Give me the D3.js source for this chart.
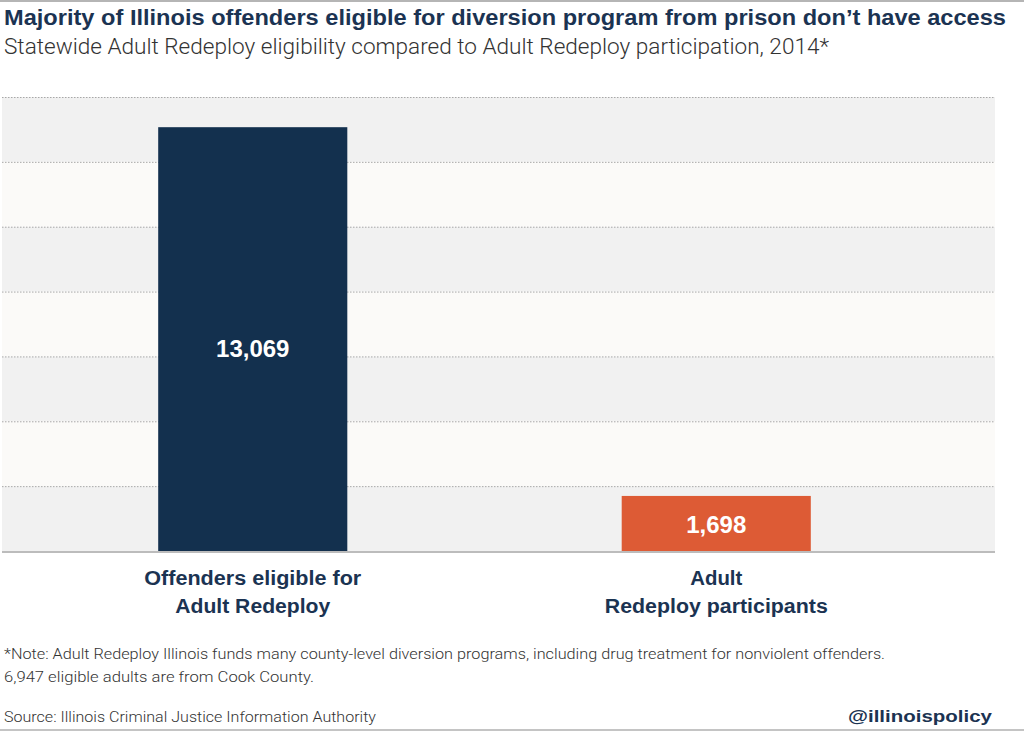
<!DOCTYPE html>
<html>
<head>
<meta charset="utf-8">
<script src="https://cdn.jsdelivr.net/npm/d3@7"></script>
<style>
html,body{margin:0;padding:0;background:#fff;}
svg{display:block;}
</style>
</head>
<body>
<svg id="chart" width="1024" height="734"></svg>
<script>
const categories = ["Offenders eligible for|Adult Redeploy", "Adult|Redeploy participants"];
const values = [13069, 1698];
const barColors = ["#13304e", "#dd5b35"];
const yTicks = [0, 2000, 4000, 6000, 8000, 10000, 12000, 14000];
const titleText = "Majority of Illinois offenders eligible for diversion program from prison don\u2019t have access";
const subtitleText = "Statewide Adult Redeploy eligibility compared to Adult Redeploy participation, 2014*";
const noteLines = ["*Note: Adult Redeploy Illinois funds many county-level diversion programs, including drug treatment for nonviolent offenders.",
                   "6,947 eligible adults are from Cook County."];
const sourceText = "Source: Illinois Criminal Justice Information Authority";
const handleText = "@illinoispolicy";

const svg = d3.select("#chart");
const W = 1024, H = 734;
const plotL = 2, plotR = 995, plotT = 97, plotB = 551;

const y = d3.scaleLinear().domain([0, 14000]).range([plotB, plotT]);
const x = d3.scaleBand().domain(categories).range([21, 948]).paddingInner(0.592).paddingOuter(0.296);

const navy = "#1b3352";

// top/bottom border rules
svg.append("rect").attr("x", 0).attr("y", 0).attr("width", W).attr("height", 2).attr("fill", "#b5b5b5");
svg.append("rect").attr("x", 0).attr("y", 729).attr("width", W).attr("height", 2).attr("fill", "#c4c4c4");

// bands
const bandData = d3.pairs(yTicks);
svg.append("g").selectAll("rect").data(bandData).join("rect")
  .attr("x", plotL).attr("width", plotR - plotL)
  .attr("y", d => y(d[1])).attr("height", d => y(d[0]) - y(d[1]))
  .attr("fill", (d, i) => i % 2 === 0 ? "#f1f1f1" : "#fbfaf8");

// gridlines
svg.append("g").selectAll("line").data(yTicks.slice(1)).join("line")
  .attr("x1", plotL).attr("x2", plotR)
  .attr("y1", d => y(d) + 0.5).attr("y2", d => y(d) + 0.5)
  .attr("stroke", "#a8a8a8").attr("stroke-width", 1).attr("stroke-dasharray", "1.5,1.5");

// bars
svg.append("g").selectAll("rect").data(values).join("rect")
  .attr("x", (d, i) => x(categories[i])).attr("width", x.bandwidth())
  .attr("y", d => y(d)).attr("height", d => y(0) - y(d))
  .attr("fill", (d, i) => barColors[i]);

// baseline
svg.append("rect").attr("x", plotL).attr("y", plotB).attr("width", plotR - plotL).attr("height", 2).attr("fill", "#bcbcbc");

// value labels
const fmt = d3.format(",");
const labelY = [357, 533];
svg.append("g").selectAll("text").data(values).join("text")
  .attr("x", (d, i) => x(categories[i]) + x.bandwidth() / 2)
  .attr("y", (d, i) => labelY[i])
  .attr("text-anchor", "middle")
  .attr("font-family", "'Liberation Sans', Arial, sans-serif")
  .attr("font-weight", "bold").attr("font-size", 24).attr("fill", "#fff")
  .text(d => fmt(d));

// helper for width-fitted text
function fitText(sel, w) {
  const natural = sel.node().getComputedTextLength();
  if (w && natural > 0) sel.attr("textLength", w).attr("lengthAdjust", "spacingAndGlyphs");
  return sel;
}

// category labels
const catWidths = [[217, 155], [52, 223]];
categories.forEach((c, i) => {
  const lines = c.split("|");
  lines.forEach((ln, j) => {
    const t = svg.append("text")
      .attr("x", x(c) + x.bandwidth() / 2).attr("y", 585 + j * 28)
      .attr("text-anchor", "middle")
      .attr("font-family", "'Liberation Sans', Arial, sans-serif")
      .attr("font-weight", "bold").attr("font-size", 20).attr("fill", navy)
      .text(ln);
    fitText(t, catWidths[i][j]);
  });
});

// title & subtitle
fitText(svg.append("text").attr("x", 4).attr("y", 25)
  .attr("font-family", "'Liberation Sans', Arial, sans-serif").attr("font-weight", "bold")
  .attr("font-size", 22.5).attr("fill", navy).text(titleText), 1002);
fitText(svg.append("text").attr("x", 4).attr("y", 54)
  .attr("font-family", "Roboto, 'Liberation Sans', sans-serif").attr("font-weight", 300)
  .attr("font-size", 22.5).attr("fill", "#333").text(subtitleText), 825);

// notes
const noteW = [881, 310];
noteLines.forEach((ln, i) => {
  fitText(svg.append("text").attr("x", 4).attr("y", 659 + i * 23)
    .attr("font-family", "Roboto, 'Liberation Sans', sans-serif").attr("font-weight", 300)
    .attr("font-size", 15.5).attr("fill", "#333").text(ln), noteW[i]);
});
fitText(svg.append("text").attr("x", 4).attr("y", 722)
  .attr("font-family", "Roboto, 'Liberation Sans', sans-serif").attr("font-weight", 300)
  .attr("font-size", 15.5).attr("fill", "#333").text(sourceText), 372);
fitText(svg.append("text").attr("x", 992).attr("y", 722).attr("text-anchor", "end")
  .attr("font-family", "'Liberation Sans', Arial, sans-serif").attr("font-weight", "bold")
  .attr("font-size", 17).attr("fill", navy).text(handleText), 144);
</script>
</body>
</html>
